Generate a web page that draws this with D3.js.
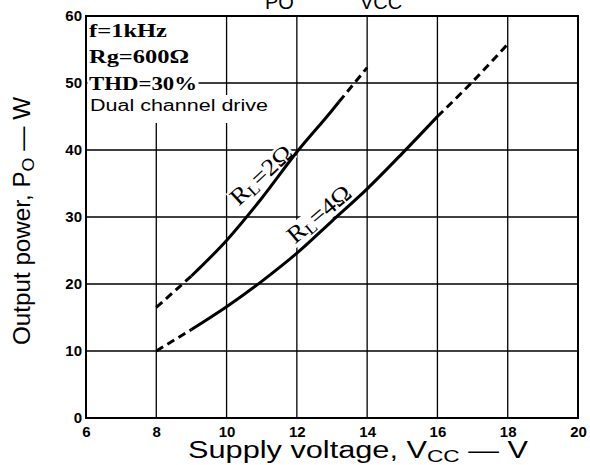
<!DOCTYPE html>
<html>
<head>
<meta charset="utf-8">
<script src="https://cdn.jsdelivr.net/npm/d3@7"></script>
<style>
body{margin:0;background:#fff}
</style>
</head>
<body>
<div id="canvas"></div>
<script>
// values
const xTicks = [6,8,10,12,14,16,18,20]
const yTicks = [0,10,20,30,40,50,60]

// RL = 2 ohm
const vcc2 = [8, 9, 10, 11, 12, 13, 13.2, 14]
const po2  = [16.5, 21.2, 26.5, 32.8, 39.7, 45.9, 47.2, 52.3]
// RL = 4 ohm
const vcc4 = [8, 9, 10, 11, 12, 13, 14, 15, 16, 17, 18]
const po4  = [10, 13.2, 16.6, 20.4, 24.6, 29.4, 34.2, 39.5, 45, 50.2, 55.8]

// which stretches are dashed: [from, to, dashed]
const parts2 = [[8,9,true],[9,13.2,false],[13.2,14,true]]
const parts4 = [[8,9,true],[9,16,false],[16,18,true]]

const notes = ['f=1kHz','Rg=600Ω','THD=30%']

const margin = {top:16,left:86,right:12,bottom:47}
let width = 590
let height = 465

const svg = d3.select('#canvas')
            .append('svg')
            .attr('width',width)
            .attr('height',height)

let x = d3.scaleLinear()
        .domain([6,20])
        .range([margin.left, width-margin.right])

let y = d3.scaleLinear()
        .domain([0,60])
        .range([height-margin.bottom, margin.top])

// grid
let grid = svg.append('g')
grid.selectAll('.vg').data(xTicks.slice(1,-1)).enter()
    .append('line')
    .attr('x1',d=>x(d)).attr('x2',d=>x(d))
    .attr('y1',y(0)).attr('y2',y(60))
    .attr('stroke','#000').attr('stroke-width',1.3)
grid.selectAll('.hg').data(yTicks.slice(1,-1)).enter()
    .append('line')
    .attr('y1',d=>y(d)).attr('y2',d=>y(d))
    .attr('x1',x(6)).attr('x2',x(20))
    .attr('stroke','#000').attr('stroke-width',1.3)

// axes (tick labels only)
let xAxisCall = d3.axisBottom(x).tickValues(xTicks).tickSize(0).tickPadding(8)
let xAxis = svg.append('g')
            .attr('transform',`translate(0,${y(0)})`)
            .call(xAxisCall)
let yAxisCall = d3.axisLeft(y).tickValues(yTicks).tickSize(0).tickPadding(4)
let yAxis = svg.append('g')
            .attr('transform',`translate(${x(6)},0)`)
            .call(yAxisCall)
svg.selectAll('.domain').remove()
svg.selectAll('.tick text')
    .attr('font-family','Liberation Sans, Arial, sans-serif')
    .attr('font-weight','bold')
    .attr('font-size',15)
    .attr('fill','#000')

// frame
svg.append('rect')
    .attr('x',x(6)).attr('y',y(60))
    .attr('width',x(20)-x(6)).attr('height',y(0)-y(60))
    .attr('fill','none').attr('stroke','#000').attr('stroke-width',2)

// notes top-left, each with white backing
let noteG = svg.append('g')
let noteY = [37,63,90]
let noteW = [78,100,108]
notes.forEach((t,i)=>{
    let bg = noteG.append('rect').attr('fill','#fff')
    let tx = noteG.append('text')
        .text(t)
        .attr('x',89).attr('y',noteY[i])
        .attr('font-family','Liberation Serif, Times New Roman, serif')
        .attr('font-weight','bold')
        .attr('font-size',19)
        .attr('textLength',noteW[i])
        .attr('lengthAdjust','spacingAndGlyphs')
    let b = tx.node().getBBox()
    bg.attr('x',x(6)+1.5).attr('y',noteY[i]-20).attr('width',b.x+b.width-x(6)).attr('height',27)
})
let dbg = noteG.append('rect').attr('fill','#fff')
let dtx = noteG.append('text')
    .text('Dual channel drive')
    .attr('x',90).attr('y',111)
    .attr('font-family','Liberation Sans, Arial, sans-serif')
    .attr('font-size',16)
    .attr('textLength',178)
    .attr('lengthAdjust','spacingAndGlyphs')
let db = dtx.node().getBBox()
dbg.attr('x',x(6)+1.5).attr('y',95).attr('width',db.x+db.width-x(6)+2).attr('height',28)

// curve labels (drawn under the curves, white backing over the grid)
function curveLabel(cx,cy,ang,num){
    let g = svg.append('g').attr('transform',`translate(${cx},${cy}) rotate(${ang})`)
    let bg = g.append('rect').attr('fill','#fff')
    let t = g.append('text')
        .attr('text-anchor','middle')
        .attr('dominant-baseline','central')
        .attr('font-family','Liberation Serif, Times New Roman, serif')
        .attr('font-size',24)
        .attr('textLength',76)
        .attr('lengthAdjust','spacingAndGlyphs')
    t.append('tspan').text('R')
    t.append('tspan').text('L').attr('font-size',16).attr('dy',5)
    t.append('tspan').text('='+num+'Ω').attr('dy',-5)
    let b = t.node().getBBox()
    bg.attr('x',b.x-1).attr('y',b.y+3).attr('width',b.width+2).attr('height',b.height-5)
}
curveLabel(261,175,-43,2)
curveLabel(319,214,-40,4)

// curves
let line = d3.line()
    .x(d=>x(d[0])).y(d=>y(d[1]))
    .curve(d3.curveMonotoneX)

function drawCurve(vs, ps, parts){
    let pts = vs.map((v,i)=>[v,ps[i]])
    parts.forEach(p=>{
        let seg = pts.filter(d=>d[0]>=p[0] && d[0]<=p[1])
        svg.append('path')
            .attr('d',line(seg))
            .attr('fill','none')
            .attr('stroke','#000')
            .attr('stroke-width',3)
            .attr('stroke-dasharray',p[2]?'8,5':null)
    })
}
drawCurve(vcc2,po2,parts2)
drawCurve(vcc4,po4,parts4)

// axis titles
let xt = svg.append('text')
    .attr('x',358).attr('y',458)
    .attr('text-anchor','middle')
    .attr('font-family','Liberation Sans, Arial, sans-serif')
    .attr('font-size',23)
    .attr('textLength',340)
    .attr('lengthAdjust','spacingAndGlyphs')
xt.append('tspan').text('Supply voltage, V')
xt.append('tspan').text('CC').attr('font-size',17).attr('dy',4)
xt.append('tspan').text(' — V').attr('dy',-4)

let yt = svg.append('text')
    .attr('transform','translate(30,221) rotate(-90)')
    .attr('text-anchor','middle')
    .attr('font-family','Liberation Sans, Arial, sans-serif')
    .attr('font-size',23)
    .attr('textLength',248)
    .attr('lengthAdjust','spacingAndGlyphs')
yt.append('tspan').text('Output power, P')
yt.append('tspan').text('O').attr('font-size',17).attr('dy',4)
yt.append('tspan').text(' — W').attr('dy',-4)

// title, mostly cut off at the top
let tt = svg.append('g')
    .attr('font-family','Liberation Sans, Arial, sans-serif')
    .attr('font-size',20)
tt.append('text').text('PO').attr('x',265).attr('y',9)
tt.append('text').text('—').attr('x',318).attr('y',-2)
tt.append('text').text('VCC').attr('x',360).attr('y',9)
</script>
</body>
</html>
